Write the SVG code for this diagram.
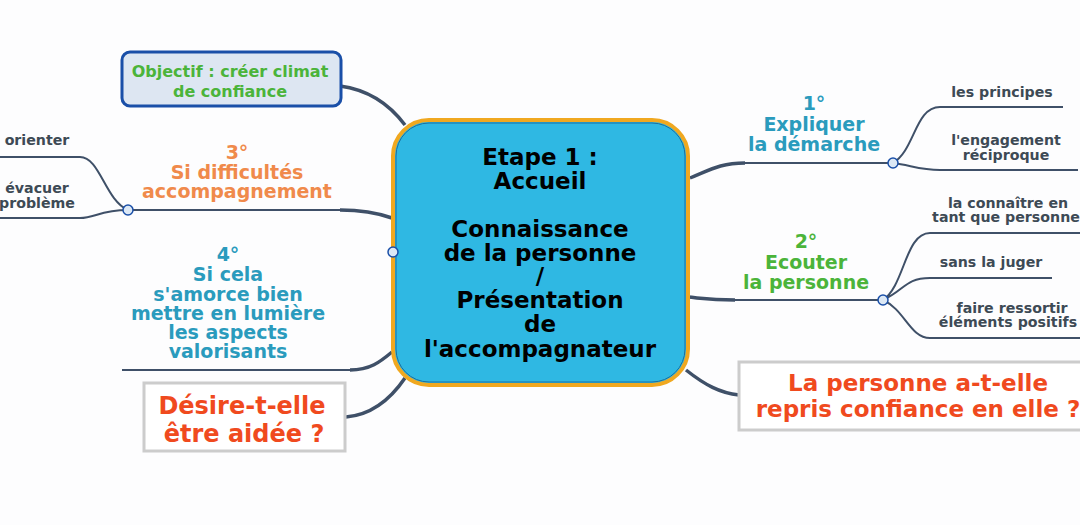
<svg xmlns="http://www.w3.org/2000/svg" width="1080" height="525" viewBox="0 0 1080 525">
<style>
text{font-family:"DejaVu Sans",Verdana,sans-serif;font-weight:bold;text-anchor:middle}
.c{fill:none;stroke:#3f5068;stroke-width:2}
.t{fill:none;stroke:#3f5068;stroke-width:3.5}
.s{font-size:14.2px;fill:#3d4a55}
.k{fill:#dce8f5;stroke:#1a4fa8;stroke-width:1.5}
</style>
<rect width="1080" height="525" fill="#fdfdfe"/>
<g id="connectors">
<path class="t" d="M405,125 C390,105 370,90 340,86"/>
<path class="t" d="M392,218 C375,212 360,210 340,210"/><path class="c" d="M340,210 H128"/>
<path class="c" d="M128,210 C100,210 95,218 80,218 H0 M128,210 C105,200 100,157 80,157 H0"/>
<path class="t" d="M392,352 C380,362 370,370 350,370"/><path class="c" d="M350,370 H122"/>
<path class="t" d="M405,378 C390,400 370,415 346,417"/>
<path class="t" d="M690,178 C710,170 720,163 745,163"/><path class="c" d="M745,163 H893"/>
<path class="c" d="M893,163 C915,150 915,107 940,107 H1063 M893,163 C910,165 920,170 940,170 H1078"/>
<path class="t" d="M688,297 C700,298 710,300 735,300"/><path class="c" d="M735,300 H883"/>
<path class="c" d="M883,300 C905,285 905,233 930,233 H1080 M883,300 C905,290 905,278 930,278 H1052 M883,300 C905,310 910,338 930,338 H1080"/>
<path class="t" d="M686,370 C705,385 720,393 739,395"/>
<circle class="k" cx="128" cy="210" r="5"/><circle class="k" cx="893" cy="163" r="5"/><circle class="k" cx="883" cy="300" r="5"/>
</g>
<g id="center">
<rect x="393" y="120" width="295" height="265" rx="36" fill="#2fb8e3" stroke="#f0a820" stroke-width="4"/>
<rect x="396" y="123" width="289" height="259" rx="33" fill="none" stroke="#1a6fa0" stroke-width="1"/>
<g font-size="23" fill="#000"><text x="540" y="165">Etape 1 :</text><text x="540" y="189">Accueil</text><text x="540" y="237">Connaissance</text><text x="540" y="261">de la personne</text><text x="540" y="284">/</text><text x="540" y="308">Présentation</text><text x="540" y="332">de</text><text x="540" y="357">l'accompagnateur</text></g>
<circle class="k" cx="393" cy="252" r="5"/>
</g>
<g id="objectif"><rect x="122" y="52" width="219" height="54" rx="8" fill="#dde6f2" stroke="#1a4fa8" stroke-width="3"/>
<g font-size="16" fill="#4bb43a"><text x="230" y="77">Objectif : créer climat</text><text x="230" y="97">de confiance</text></g></g>
<g id="n3" font-size="19" fill="#f08a4b"><text x="237" y="159">3°</text><text x="237" y="179">Si difficultés</text><text x="237" y="198">accompagnement</text></g>
<g id="n3a"><text class="s" x="37" y="145">orienter</text><text class="s" x="37" y="193">évacuer</text><text class="s" x="37" y="208">problème</text></g>
<g id="n4" font-size="19" fill="#2a9bbd"><text x="228" y="261">4°</text><text x="228" y="281">Si cela</text><text x="228" y="301">s'amorce bien</text><text x="228" y="320">mettre en lumière</text><text x="228" y="339">les aspects</text><text x="228" y="358">valorisants</text></g>
<g id="desire"><rect x="144" y="383" width="201" height="68" fill="#fff" stroke="#ccc" stroke-width="3"/>
<g font-size="24" fill="#f04a1e"><text x="242" y="414">Désire-t-elle</text><text x="244" y="442">être aidée ?</text></g></g>
<g id="n1" font-size="19" fill="#2a9bbd"><text x="814" y="110">1°</text><text x="814" y="131">Expliquer</text><text x="814" y="151">la démarche</text></g>
<g id="n1a"><text class="s" x="1002" y="97">les principes</text><text class="s" x="1006" y="145">l'engagement</text><text class="s" x="1006" y="160">réciproque</text></g>
<g id="n2" font-size="19" fill="#4bb43a"><text x="806" y="248">2°</text><text x="806" y="269">Ecouter</text><text x="806" y="289">la personne</text></g>
<g id="n2a"><text class="s" x="1008" y="208">la connaître en</text><text class="s" x="1006" y="222">tant que personne</text><text class="s" x="991" y="267">sans la juger</text><text class="s" x="1012" y="313">faire ressortir</text><text class="s" x="1008" y="327">éléments positifs</text></g>
<g id="repris"><rect x="739" y="362" width="345" height="68" fill="#fff" stroke="#ccc" stroke-width="3"/>
<g font-size="23" fill="#f04a1e"><text x="918" y="391">La personne a-t-elle</text><text x="918" y="417">repris confiance en elle ?</text></g></g>
</svg>
